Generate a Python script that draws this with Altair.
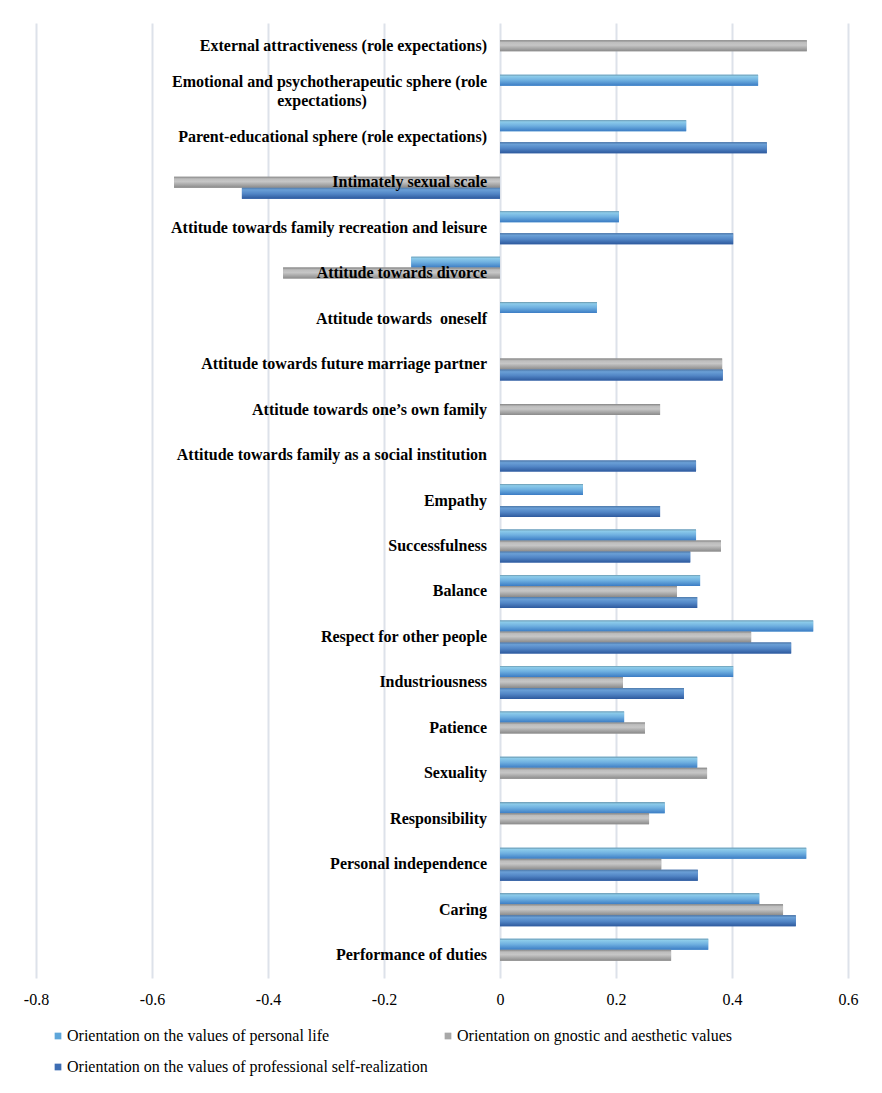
import altair as alt
import pandas as pd

categories = [
    "External attractiveness (role expectations)",
    "Emotional and psychotherapeutic sphere (role expectations)",
    "Parent-educational sphere (role expectations)",
    "Intimately sexual scale",
    "Attitude towards family recreation and leisure",
    "Attitude towards divorce",
    "Attitude towards  oneself",
    "Attitude towards future marriage partner",
    "Attitude towards one\u2019s own family",
    "Attitude towards family as a social institution",
    "Empathy",
    "Successfulness",
    "Balance",
    "Respect for other people",
    "Industriousness",
    "Patience",
    "Sexuality",
    "Responsibility",
    "Personal independence",
    "Caring",
    "Performance of duties",
]
label_line1 = [
    "External attractiveness (role expectations)",
    "Emotional and psychotherapeutic sphere (role",
    "Parent-educational sphere (role expectations)",
    "Intimately sexual scale",
    "Attitude towards family recreation and leisure",
    "Attitude towards divorce",
    "Attitude towards\u00a0\u00a0oneself",
    "Attitude towards future marriage partner",
    "Attitude towards one\u2019s own family",
    "Attitude towards family as a social institution",
    "Empathy",
    "Successfulness",
    "Balance",
    "Respect for other people",
    "Industriousness",
    "Patience",
    "Sexuality",
    "Responsibility",
    "Personal independence",
    "Caring",
    "Performance of duties",
]
label_line2 = ["", "expectations)"] + [""] * 19

series_names = [
    "Orientation on the values of personal life",
    "Orientation on gnostic and aesthetic values",
    "Orientation on the values of professional self-realization",
]
personal = [None, 0.445, 0.321, None, 0.205, -0.153, 0.167, None, None, None,
            0.143, 0.338, 0.345, 0.540, 0.402, 0.214, 0.340, 0.284, 0.528, 0.447, 0.359]
gnostic = [0.529, None, None, -0.562, None, -0.374, None, 0.383, 0.276, None,
           None, 0.381, 0.305, 0.433, 0.212, 0.250, 0.357, 0.257, 0.278, 0.488, 0.295]
professional = [None, None, 0.460, -0.445, 0.402, None, None, 0.384, None, 0.338,
                0.276, 0.328, 0.340, 0.502, 0.317, None, None, None, 0.341, 0.510, None]
x_ticks = [-0.8, -0.6, -0.4, -0.2, 0, 0.2, 0.4, 0.6]

rows = []
for name, vals in zip(series_names, [personal, gnostic, professional]):
    for c, v in zip(categories, vals):
        if v is not None:
            rows.append({"category": c, "series": name, "value": v})
df = pd.DataFrame(rows)

lab = pd.DataFrame({"category": categories, "line1": label_line1, "line2": label_line2})

serif = "Liberation Serif"
solid = ["#5ea6da", "#a8a8a8", "#3d6db3"]
gradients = [
    [("#6b98ad", 0.0), ("#8ccbea", 0.15), ("#6fb0e0", 0.5), ("#3b7cc4", 1.0)],
    [("#858585", 0.0), ("#bdbdbd", 0.2), ("#c6c6c6", 0.45), ("#8a8a8a", 1.0)],
    [("#4d78a8", 0.0), ("#6a9fd6", 0.2), ("#5286c6", 0.55), ("#2e5a9e", 1.0)],
]

y_scale = alt.Scale(domain=categories, paddingInner=0.275, paddingOuter=0.1375)
yoff_scale = alt.Scale(domain=series_names, paddingInner=0, paddingOuter=0)
x_enc = alt.X(
    "value:Q",
    scale=alt.Scale(domain=[-0.8, 0.6], nice=False),
    axis=alt.Axis(values=x_ticks, title=None, grid=True, gridColor="#dde2ea", gridWidth=2,
                  domain=False, ticks=False, labelFont=serif, labelFontSize=16,
                  labelColor="#000000", labelPadding=13, labelFlush=False,
                  labelExpr="'' + datum.value"),
)
y_enc = alt.Y("category:N", scale=y_scale, axis=None)
yoff_enc = alt.YOffset("series:N", scale=yoff_scale)

base = alt.Chart(df).mark_bar(stroke=None).encode(
    x=x_enc, y=y_enc, yOffset=yoff_enc,
    color=alt.Color(
        "series:N",
        scale=alt.Scale(domain=series_names, range=solid),
        legend=alt.Legend(
            title=None, orient="none", legendX=14, legendY=1005, columns=2,
            direction="horizontal", symbolType="square", symbolSize=45,
            symbolStrokeWidth=0, labelFont=serif, labelFontSize=16,
            labelColor="#000000", labelLimit=600, columnPadding=12, rowPadding=15,
            labelOffset=1,
        ),
    ),
)

layers = [base]
for name, stops in zip(series_names, gradients):
    g = alt.Gradient(
        gradient="linear",
        stops=[alt.GradientStop(color=c, offset=o) for c, o in stops],
        x1=0, x2=0, y1=0, y2=1,
    )
    layers.append(
        alt.Chart(df).transform_filter(alt.datum.series == name)
        .mark_bar(fill=g, stroke=None)
        .encode(x=alt.X("value:Q"), y=y_enc, yOffset=yoff_enc)
    )

single = alt.Chart(lab).transform_filter("datum.line2 == ''").mark_text(
    align="right", baseline="middle", dx=-13, font=serif, fontSize=16,
    fontWeight="bold", color="#000000"
).encode(x=alt.datum(0), y=y_enc, text="line1:N")

double1 = alt.Chart(lab).transform_filter("datum.line2 != ''").mark_text(
    align="right", baseline="middle", dx=-13, dy=-9.5, font=serif, fontSize=16,
    fontWeight="bold", color="#000000"
).encode(x=alt.datum(0), y=y_enc, text="line1:N")

double2 = alt.Chart(lab).transform_filter("datum.line2 != ''").mark_text(
    align="center", baseline="middle", dx=-178, dy=9.5, font=serif, fontSize=16,
    fontWeight="bold", color="#000000"
).encode(x=alt.datum(0), y=y_enc, text="line2:N")

chart = alt.layer(*layers, single, double1, double2).properties(
    width=812, height=955,
    padding={"left": 28, "top": 15, "right": 26, "bottom": 100},
    autosize=alt.AutoSizeParams(type="none"),
).configure_view(stroke=None)

chart.save("out.html", embed_options={"renderer": "svg", "actions": False})
